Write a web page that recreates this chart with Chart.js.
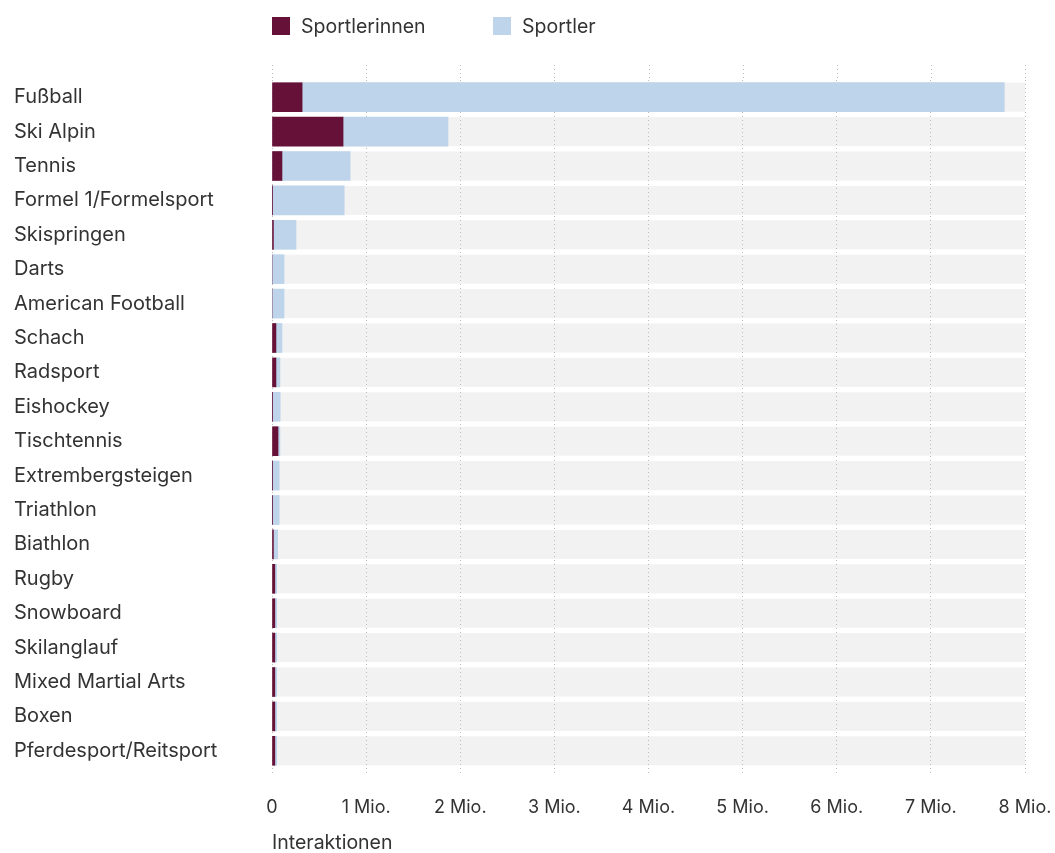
<!DOCTYPE html>
<html>
<head>
<meta charset="utf-8">
<script src="https://cdn.jsdelivr.net/npm/chart.js@4"></script>
<style>
  html, body { margin: 0; padding: 0; background: #fff; }
  #wrap { position: relative; width: 1055px; height: 853px; font-family: Inter, sans-serif; }
  #legend { position: absolute; top: 16px; left: 272px; display: flex; font-size: 19.5px; color: #333; line-height: 20px; }
  #legend .item { display: flex; align-items: center; }
  #legend .item:first-child { width: 221px; }
  #legend .box { width: 18px; height: 18px; margin-right: 11px; }
</style>
</head>
<body>
<div id="wrap">
  <div id="legend"></div>
  <canvas id="chart" width="1055" height="853"></canvas>
</div>
<script>
const sports = ['Fußball', 'Ski Alpin', 'Tennis', 'Formel 1/Formelsport', 'Skispringen', 'Darts',
  'American Football', 'Schach', 'Radsport', 'Eishockey', 'Tischtennis', 'Extrembergsteigen',
  'Triathlon', 'Biathlon', 'Rugby', 'Snowboard', 'Skilanglauf', 'Mixed Martial Arts', 'Boxen',
  'Pferdesport/Reitsport'];
// interactions, women / men
const sportlerinnen = [320000, 755000, 106000, 2000, 15000, 0, 0, 42000, 42000, 2000, 64000, 2000,
  2000, 15000, 30000, 30000, 30000, 30000, 30000, 30000];
const sportler = [7460000, 1115000, 724000, 765000, 240000, 128000, 128000, 64000, 42000, 85000, 20000, 74000,
  74000, 45000, 20000, 20000, 20000, 20000, 20000, 20000];
const xTicks = [0, 1000000, 2000000, 3000000, 4000000, 5000000, 6000000, 7000000, 8000000];
const seriesNames = ['Sportlerinnen', 'Sportler'];
const seriesColors = ['#661238', '#bdd4ea'];

const FONT = 'Inter';

const legend = document.getElementById('legend');
seriesNames.forEach((name, i) => {
  legend.innerHTML += `<div class="item"><div class="box" style="background:${seriesColors[i]}"></div>${name}</div>`;
});

// grey track behind every bar, drawn under the grid
const trackPlugin = {
  id: 'track',
  beforeDraw(chart) {
    const { ctx, chartArea, scales } = chart;
    ctx.save();
    ctx.fillStyle = '#f2f2f2';
    sports.forEach((_, i) => {
      const y = scales.y.getPixelForValue(i);
      ctx.fillRect(chartArea.left, y - 14.5, chartArea.right - chartArea.left, 29);
    });
    // grid lines reach a bit above the plot
    ctx.strokeStyle = '#bdbdbd';
    ctx.setLineDash([1, 3]);
    ctx.lineWidth = 1;
    xTicks.forEach(v => {
      const x = Math.round(scales.x.getPixelForValue(v)) + 0.5;
      ctx.beginPath();
      ctx.moveTo(x, 65);
      ctx.lineTo(x, chartArea.top);
      ctx.stroke();
    });
    ctx.restore();
  }
};

new Chart(document.getElementById('chart'), {
  type: 'bar',
  data: {
    labels: sports,
    datasets: [
      { label: seriesNames[0], data: sportlerinnen, backgroundColor: seriesColors[0] },
      { label: seriesNames[1], data: sportler, backgroundColor: seriesColors[1] }
    ]
  },
  options: {
    indexAxis: 'y',
    responsive: false,
    animation: false,
    barThickness: 29,
    layout: { padding: { left: 14, right: 30, top: 80, bottom: 0 } },
    plugins: { legend: { display: false }, tooltip: { enabled: false } },
    scales: {
      x: {
        stacked: true,
        min: 0,
        max: 8000000,
        afterBuildTicks: (s) => { s.ticks = xTicks.map(v => ({ value: v })); },
        afterFit: (s) => { s.height = 85; s.paddingLeft = 0; s.paddingRight = 0; },
        border: { display: false, dash: [1, 3] },
        grid: {
          color: '#bdbdbd',
          tickLength: 7,
          tickColor: '#bdbdbd',
          tickBorderDash: [1, 3]
        },
        ticks: {
          padding: 22,
          color: '#333',
          font: { family: FONT, size: 18 },
          callback: (v) => v === 0 ? '0' : (v / 1000000) + ' Mio.'
        },
        title: {
          display: true,
          text: 'Interaktionen',
          align: 'start',
          color: '#333',
          font: { family: FONT, size: 19.5, lineHeight: 1 },
          padding: { top: 0, bottom: 0 }
        }
      },
      y: {
        stacked: true,
        afterFit: (s) => { s.width = 258; },
        border: { display: false },
        grid: { display: false },
        ticks: {
          crossAlign: 'far',
          color: '#333',
          font: { family: FONT, size: 20 }
        }
      }
    }
  },
  plugins: [trackPlugin]
});
</script>
</body>
</html>
